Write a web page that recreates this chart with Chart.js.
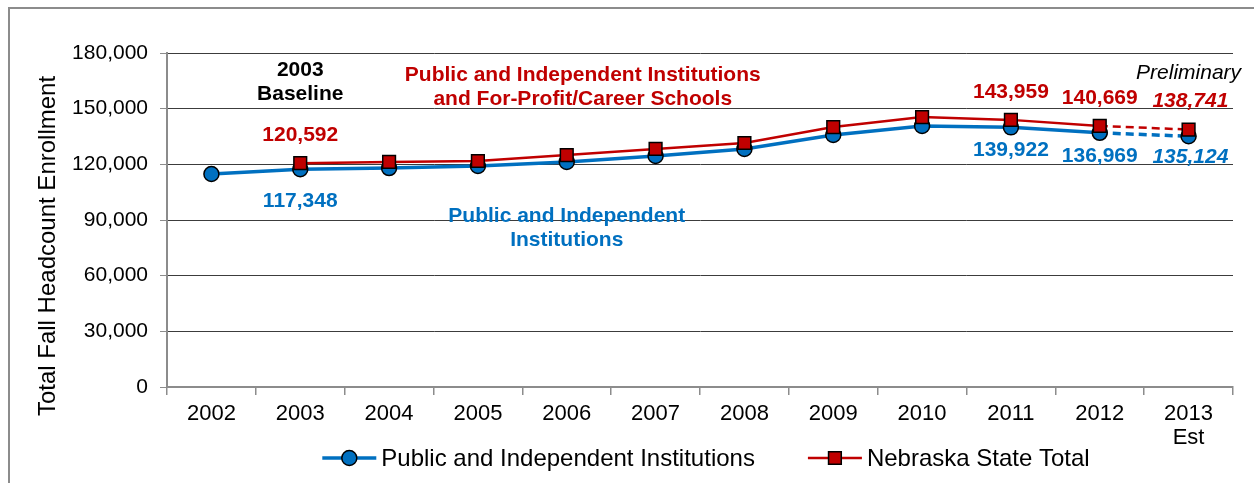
<!DOCTYPE html>
<html>
<head>
<meta charset="utf-8">
<script src="https://cdn.jsdelivr.net/npm/chart.js@4"></script>
<style>
  html, body { margin: 0; padding: 0; background: #fff; }
  #wrap { width: 1254px; height: 483px; }
</style>
</head>
<body>
<div id="wrap"><canvas id="enrollChart" width="1254" height="483"></canvas></div>
<script>
// years on the x axis
var years = ['2002', '2003', '2004', '2005', '2006', '2007', '2008', '2009', '2010', '2011', '2012', ['2013', 'Est']];

// Public and Independent Institutions
var publicIndep = [114800, 117348, 118000, 119100, 121300, 124500, 128300, 135800, 140700, 139922, 136969, 135124];

// Nebraska State Total (no 2002 value)
var stateTotal = [null, 120592, 121300, 121800, 125000, 128300, 131500, 140100, 145500, 143959, 140669, 138741];

var yTicks = [0, 30000, 60000, 90000, 120000, 150000, 180000];

var yTitle = 'Total Fall Headcount Enrollment';

var blue = '#0070C0';
var red = '#C00000';
var font = '"Liberation Sans", Arial, sans-serif';

// text notes on the plot: [text, x index, y value, colour, style]
var notes = [
    ['2003', 1, 170800, '#000', 'bold'],
    ['Baseline', 1, 157900, '#000', 'bold'],
    ['120,592', 1, 135800, red, 'bold'],
    ['117,348', 1, 100200, blue, 'bold'],
    ['Public and Independent Institutions', 4.18, 168100, red, 'bold'],
    ['and For-Profit/Career Schools', 4.18, 155200, red, 'bold'],
    ['Public and Independent', 4.0, 92150, blue, 'bold'],
    ['Institutions', 4.0, 79200, blue, 'bold'],
    ['143,959', 9, 159000, red, 'bold'],
    ['140,669', 10, 155700, red, 'bold'],
    ['138,741', 11.02, 154100, red, 'italic bold'],
    ['139,922', 9, 127700, blue, 'bold'],
    ['136,969', 10, 124500, blue, 'bold'],
    ['135,124', 11.02, 123900, blue, 'italic bold'],
    ['Preliminary', 11.0, 169200, '#000', 'italic']
];

var dashAfter = 10; // 2012 -> 2013 estimate is dashed

var frame = {
    id: 'frame',
    beforeDraw: function (chart) {
        var c = chart.ctx;
        c.save();
        c.strokeStyle = '#8c8c8c';
        c.lineWidth = 2;
        c.strokeRect(9, 8, 1260, 490);
        // y axis title, sits a bit below the plot middle as in the original
        c.translate(48, 246);
        c.rotate(-Math.PI / 2);
        c.font = '24px ' + font;
        c.fillStyle = '#000';
        c.textAlign = 'center';
        c.textBaseline = 'middle';
        c.fillText(yTitle, 0, 0);
        c.restore();
    }
};

var noteLabels = {
    id: 'noteLabels',
    afterDatasetsDraw: function (chart) {
        var c = chart.ctx;
        var xs = chart.scales.x, ys = chart.scales.y;
        c.save();
        c.textAlign = 'center';
        c.textBaseline = 'middle';
        notes.forEach(function (n) {
            c.font = n[4] + ' 21px ' + font;
            c.fillStyle = n[3];
            c.fillText(n[0], xs.getPixelForValue(n[1]), ys.getPixelForValue(n[2]));
        });
        c.restore();
    }
};

// legend drawn as line + marker, like the original
var lineLegend = {
    id: 'lineLegend',
    afterDraw: function (chart) {
        var c = chart.ctx;
        var area = chart.chartArea;
        var items = [chart.data.datasets[0], chart.data.datasets[1]];
        var lineLen = 54, gapText = 5, gapItem = 53, y = 458;
        c.save();
        c.font = '24px ' + font;
        var widths = items.map(function (d) { return c.measureText(d.label).width; });
        var total = lineLen * 2 + gapText * 2 + widths[0] + widths[1] + gapItem;
        var x = (area.left + area.right) / 2 + 6 - total / 2;
        items.forEach(function (d, i) {
            c.strokeStyle = d.borderColor;
            c.lineWidth = d.borderWidth;
            c.beginPath();
            c.moveTo(x, y);
            c.lineTo(x + lineLen, y);
            c.stroke();
            c.fillStyle = d.pointBackgroundColor;
            c.strokeStyle = '#000';
            c.lineWidth = d.pointBorderWidth;
            c.beginPath();
            if (d.pointStyle === 'rect') {
                var s = d.pointRadius * Math.SQRT1_2;
                c.rect(x + lineLen / 2 - s, y - s, 2 * s, 2 * s);
            } else {
                c.arc(x + lineLen / 2, y, d.pointRadius, 0, Math.PI * 2);
            }
            c.fill();
            c.stroke();
            c.fillStyle = '#000';
            c.textAlign = 'left';
            c.textBaseline = 'middle';
            c.fillText(d.label, x + lineLen + gapText, y + 1);
            x += lineLen + gapText + widths[i] + gapItem;
        });
        c.restore();
    }
};

var dashed = function (ctx) {
    return ctx.p0DataIndex >= dashAfter ? [8, 5] : undefined;
};

var ctx = document.getElementById('enrollChart').getContext('2d');
var chart = new Chart(ctx, {
    type: 'line',
    data: {
        labels: years,
        datasets: [{
            label: 'Public and Independent Institutions',
            data: publicIndep,
            borderColor: blue,
            borderWidth: 3.5,
            pointStyle: 'circle',
            pointRadius: 7.5,
            pointBackgroundColor: blue,
            pointBorderColor: '#000',
            pointBorderWidth: 1.5,
            segment: { borderDash: dashed },
            order: 2
        }, {
            label: 'Nebraska State Total',
            data: stateTotal,
            borderColor: red,
            borderWidth: 2.5,
            pointStyle: 'rect',
            pointRadius: 9,
            pointBackgroundColor: red,
            pointBorderColor: '#000',
            pointBorderWidth: 1.5,
            segment: { borderDash: dashed },
            order: 1
        }]
    },
    options: {
        responsive: false,
        animation: false,
        events: [],
        layout: { padding: { top: 53, right: 21, left: 8, bottom: 0 } },
        plugins: {
            legend: { display: false },
            tooltip: { enabled: false }
        },
        scales: {
            x: {
                offset: true,
                afterFit: function (s) { s.height = 96; },
                grid: {
                    offset: true,
                    drawOnChartArea: false,
                    drawTicks: true,
                    tickLength: 8,
                    color: '#8c8c8c',
                    lineWidth: 1.5
                },
                border: { color: '#8c8c8c', width: 2 },
                ticks: {
                    color: '#000',
                    padding: 7,
                    maxRotation: 0,
                    autoSkip: false,
                    font: { family: font, size: 22, lineHeight: 1.1 }
                }
            },
            y: {
                min: 0,
                max: 180000,
                afterFit: function (s) { s.width = 159; },
                afterBuildTicks: function (s) {
                    s.ticks = yTicks.map(function (v) { return { value: v }; });
                },
                grid: {
                    color: '#3c3c3c',
                    lineWidth: 1,
                    tickLength: 7,
                    tickColor: '#8c8c8c'
                },
                border: { color: '#8c8c8c', width: 2 },
                ticks: {
                    color: '#000',
                    padding: 12,
                    font: { family: font, size: 21 },
                    callback: function (v) { return v.toLocaleString('en-US'); }
                }
            }
        }
    },
    plugins: [frame, noteLabels, lineLegend]
});
</script>
</body>
</html>
